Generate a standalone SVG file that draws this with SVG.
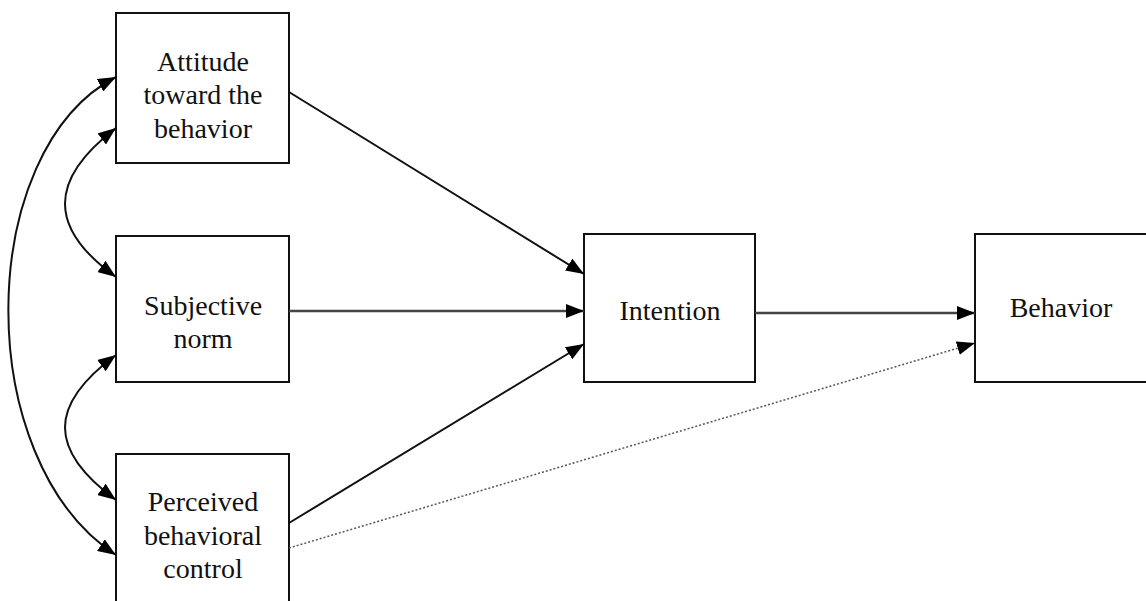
<svg xmlns="http://www.w3.org/2000/svg" width="1146" height="601" viewBox="0 0 1146 601">
<defs>
<marker id="ah" viewBox="0 0 18 14" refX="18" refY="7" markerWidth="18" markerHeight="14" markerUnits="userSpaceOnUse" orient="auto-start-reverse">
<path d="M0,0 L18,7 L0,14 Z" fill="#000"/>
</marker>
</defs>
<style>
.box{fill:#fff;stroke:#111;stroke-width:2}
.c{fill:none;stroke:#111;stroke-width:2}
.g{fill:none;stroke:#444;stroke-width:2.5}
.d{fill:none;stroke:#555;stroke-width:1.5;stroke-dasharray:2,2}
</style>
<rect width="1146" height="601" fill="#fff"/>
<g font-family="Liberation Serif" font-size="28" fill="#111" text-anchor="middle">
<g id="attitude">
<rect class="box" x="116" y="13" width="173" height="150"/>
<text x="203" y="71">Attitude</text>
<text x="203" y="104">toward the</text>
<text x="203" y="138">behavior</text>
</g>
<g id="subjective">
<rect class="box" x="116" y="236" width="173" height="146"/>
<text x="203" y="315">Subjective</text>
<text x="203" y="348">norm</text>
</g>
<g id="perceived">
<rect class="box" x="116" y="454" width="173" height="160"/>
<text x="203" y="511">Perceived</text>
<text x="203" y="545">behavioral</text>
<text x="203" y="578">control</text>
</g>
<g id="intention">
<rect class="box" x="584" y="234" width="171" height="148"/>
<text x="670" y="320">Intention</text>
</g>
<g id="behavior">
<rect class="box" x="975" y="234" width="180" height="148"/>
<text x="1061" y="317">Behavior</text>
</g>
</g>
<g id="connectors">
<path class="c" d="M289,92 L584,274" marker-end="url(#ah)"/>
<path class="g" d="M289,311 L584,311" marker-end="url(#ah)"/>
<path class="c" d="M289,523 L584,344" marker-end="url(#ah)"/>
<path class="g" d="M755,313 L975,313" marker-end="url(#ah)"/>
<path class="d" d="M289,548 L975,343" marker-end="url(#ah)"/>
<path class="c" d="M116,128 C48,180 48,228 116,277" marker-start="url(#ah)" marker-end="url(#ah)"/>
<path class="c" d="M116,355 C48,405 48,450 116,500" marker-start="url(#ah)" marker-end="url(#ah)"/>
<path class="c" d="M116,77 C-25,150 -30,460 116,555" marker-start="url(#ah)" marker-end="url(#ah)"/>
</g>
</svg>
